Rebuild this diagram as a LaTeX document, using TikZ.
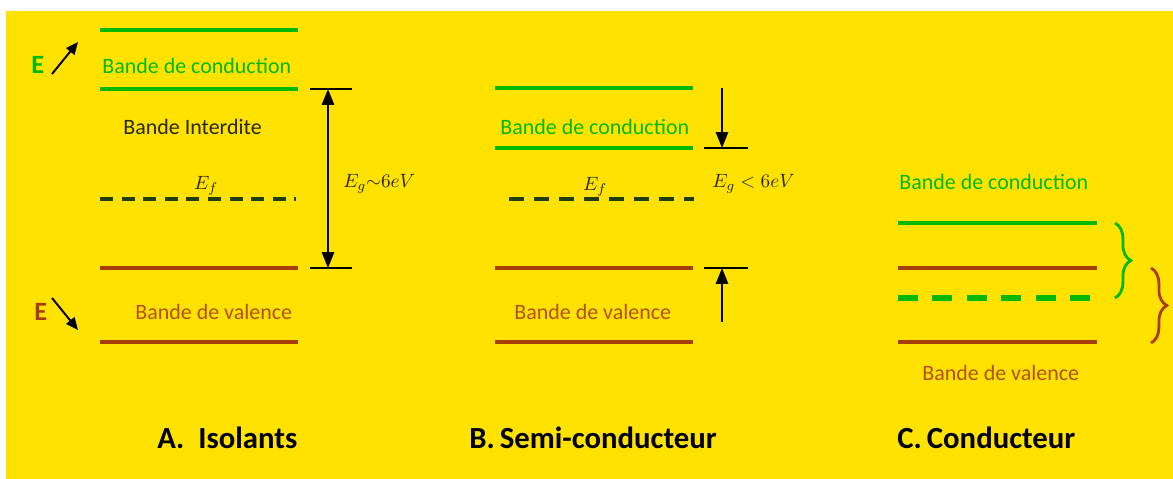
\documentclass[tikz,border=0pt]{standalone}
\usepackage{fontspec}
\setmainfont{Carlito}
\usetikzlibrary{arrows.meta,decorations.pathreplacing,positioning}
\definecolor{fond}{RGB}{255,226,0}
\definecolor{vert}{RGB}{0,185,0}
\definecolor{brun}{RGB}{165,62,8}
\definecolor{brunclair}{RGB}{178,82,10}
\definecolor{vertfonce}{RGB}{30,62,15}
\definecolor{olive}{RGB}{40,40,0}

\begin{document}
\begin{tikzpicture}[x=0.02cm,y=-0.02cm,
  bande/.style={line width=2.8pt},
  niveau/.style={line width=2.3pt,vertfonce},
  texte/.style={inner sep=0pt,anchor=west,font=\fontsize{12.5}{15}\selectfont},
  titre/.style={inner sep=0pt,anchor=west,font=\bfseries\fontsize{17.5}{20}\selectfont},
  lettre/.style={inner sep=0pt,anchor=west,font=\bfseries\fontsize{15}{17}\selectfont},
  formule/.style={inner sep=0pt,text=olive,font=\fontsize{11}{13}\selectfont},
  repere/.style={line width=0.8pt},
  fleche/.style={line width=0.8pt,-{Triangle[length=9pt,width=7pt]}},
  accolade/.style={line width=1.6pt,decorate,decoration={brace,amplitude=9pt}}
]
\useasboundingbox (0,0) rectangle (1173,479);
\fill[white] (0,0) rectangle (1173,479);
\fill[fond] (6,11) rectangle (1173,479);

% axe des energies
\node[lettre,text=vert] (Ehaut) at (31,65) {E};
\node[lettre,text=brun] (Ebas) at (34,312) {E};
\draw[line width=1.1pt,-{Triangle[length=7pt,width=6pt]}] (52,74) -- (78,42);
\draw[line width=1.1pt,-{Triangle[length=7pt,width=6pt]}] (52,298) -- (78,330);

% A. Isolants
\draw[bande,vert] (100,30) -- (298,30);
\node[texte,text=vert] (condA) at (102,66) {Bande de conduction};
\draw[bande,vert] (100,89) -- (298,89);
\node[texte,text=olive] (interdite) at (123,127) {Bande Interdite};
\draw[niveau,dash pattern=on 7.4pt off 4.9pt] (100,199) -- (296,199);
\node[formule] (EfA) at (206,186) {$E_f$};
\draw[bande,brun] (100,268) -- (298,268);
\node[texte,text=brunclair] (valA) at (135,312) {Bande de valence};
\draw[bande,brun] (100,342) -- (298,342);
\coordinate (hautA) at (328,89);
\coordinate (basA) at (328,268);
\draw[repere] (310,89) -- (352,89);
\draw[repere] (310,268) -- (352,268);
\draw[repere,{Triangle[length=9pt,width=7pt]}-{Triangle[length=9pt,width=7pt]}] (hautA) -- (basA);
\node[formule,anchor=west] (EgA) at (343,184) {$E_g{\sim}6eV$};
\node[titre] (titreA) at (157,438) {A.\ \ Isolants};

% B. Semi-conducteur
\draw[bande,vert] (495,88) -- (693,88);
\node[texte,text=vert] (condB) at (500,127) {Bande de conduction};
\draw[bande,vert] (495,148) -- (693,148);
\draw[niveau,dash pattern=on 8.5pt off 5.7pt] (509,199) -- (694,199);
\node[formule] (EfB) at (595,187) {$E_f$};
\draw[bande,brun] (495,268) -- (693,268);
\node[texte,text=brunclair] (valB) at (514,312) {Bande de valence};
\draw[bande,brun] (495,342) -- (693,342);
\coordinate (departB) at (722,88);
\coordinate (hautB) at (722,148);
\coordinate (basB) at (722,268);
\coordinate (finB) at (722,322);
\draw[repere] (704,148) -- (748,148);
\draw[repere] (704,268) -- (748,268);
\draw[fleche] (departB) -- (hautB);
\draw[fleche] (finB) -- (basB);
\node[formule,anchor=west] (EgB) at (712,184) {$E_g < 6eV$};
\node[titre] (titreB) at (469,438) {B.\,Semi-conducteur};

% C. Conducteur
\node[texte,text=vert] (condC) at (899,182) {Bande de conduction};
\draw[bande,vert] (898,223) -- (1097,223);
\draw[bande,brun] (898,268) -- (1097,268);
\draw[bande,vert,line width=3.2pt,dash pattern=on 11.3pt off 8.3pt] (898,298) -- (1092,298);
\draw[bande,brun] (898,342) -- (1097,342);
\node[texte,text=brunclair] (valC) at (922,373) {Bande de valence};
\draw[accolade,vert] (1115,223) -- (1115,298);
\draw[accolade,brun] (1151,268) -- (1151,343);
\node[titre] (titreC) at (897,438) {C.\,Conducteur};
\end{tikzpicture}
\end{document}
